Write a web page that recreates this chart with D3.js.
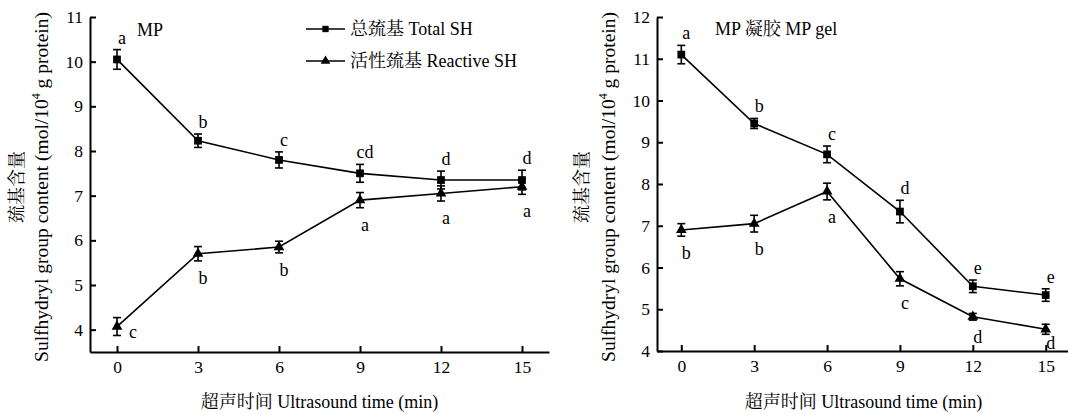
<!DOCTYPE html>
<html>
<head>
<meta charset="utf-8">
<script src="https://cdn.jsdelivr.net/npm/d3@7/dist/d3.min.js"></script>
<style>
  body { margin: 0; background: #fff; }
  svg { display: block; }
  svg text { font-family: "Liberation Serif", "Noto Serif CJK SC", serif !important; fill: #000; }
  .axis path, .axis line { stroke: #000; stroke-width: 2; }
</style>
</head>
<body>
<svg id="chart" width="1068" height="414"></svg>
<script>
'use strict';
const FONT = '"Liberation Serif", "Noto Serif CJK SC", serif';

// ultrasound time (min)
const times = [0, 3, 6, 9, 12, 15];
const xTicks = [0, 3, 6, 9, 12, 15];

// MP panel
const mpTotal = [10.05, 8.23, 7.8, 7.5, 7.35, 7.35];
const mpTotalErr = [0.22, 0.15, 0.18, 0.2, 0.2, 0.22];
const mpTotalLetters = ['a', 'b', 'c', 'cd', 'd', 'd'];
const mpReactive = [4.07, 5.7, 5.85, 6.9, 7.05, 7.2];
const mpReactiveErr = [0.2, 0.16, 0.13, 0.17, 0.17, 0.17];
const mpReactiveLetters = ['c', 'b', 'b', 'a', 'a', 'a'];
const mpReactiveSide = ['right', 'below', 'below', 'below', 'below', 'below'];
const mpYTicks = [4, 5, 6, 7, 8, 9, 10, 11];

// MP gel panel
const gelTotal = [11.1, 9.45, 8.71, 7.34, 5.55, 5.34];
const gelTotalErr = [0.22, 0.12, 0.2, 0.27, 0.15, 0.15];
const gelTotalLetters = ['a', 'b', 'c', 'd', 'e', 'e'];
const gelReactive = [6.9, 7.05, 7.82, 5.73, 4.82, 4.52];
const gelReactiveErr = [0.15, 0.2, 0.2, 0.17, 0.08, 0.12];
const gelReactiveLetters = ['b', 'b', 'a', 'c', 'd', 'd'];
const gelReactiveSide = ['below', 'below', 'below', 'below', 'below', 'below'];
const gelYTicks = [4, 5, 6, 7, 8, 9, 10, 11, 12];

const legendLabels = ['总巯基 Total SH', '活性巯基 Reactive SH'];

const svg = d3.select('#chart');

const panels = [{
    title: 'MP',
    titlePos: [137, 36],
    left: 90, right: 549, top: 17, bottom: 352,
    yDomain: [3.5, 11],
    yTicks: mpYTicks,
    total: mpTotal, totalErr: mpTotalErr, totalLetters: mpTotalLetters,
    reactive: mpReactive, reactiveErr: mpReactiveErr, reactiveLetters: mpReactiveLetters,
    reactiveSide: mpReactiveSide,
    labelX: [23, 48],
    legend: true
}, {
    title: 'MP 凝胶 MP gel',
    titlePos: [715, 35],
    left: 657, right: 1070, top: 17, bottom: 351,
    yDomain: [4, 12],
    yTicks: gelYTicks,
    total: gelTotal, totalErr: gelTotalErr, totalLetters: gelTotalLetters,
    reactive: gelReactive, reactiveErr: gelReactiveErr, reactiveLetters: gelReactiveLetters,
    reactiveSide: gelReactiveSide,
    labelX: [588, 615],
    legend: false
}];

panels.forEach(drawPanel);

// d3 axes put their own font on the group, so set ours on every text
svg.selectAll('.axis').attr('font-family', FONT).attr('font-size', null);
svg.selectAll('text').attr('font-family', FONT).style('font-family', FONT);
svg.selectAll('.axis text').style('font-size', '17.5px');

function drawPanel(p) {
    const x = d3.scaleLinear().domain([-1, 16]).range([p.left, p.right]);
    const y = d3.scaleLinear().domain(p.yDomain).range([p.bottom, p.top]);

    const g = svg.append('g');

    g.append('g')
        .attr('class', 'axis')
        .attr('transform', 'translate(0,' + p.bottom + ')')
        .call(d3.axisBottom(x).tickValues(xTicks).tickSizeInner(-6).tickSizeOuter(0).tickPadding(9));

    g.append('g')
        .attr('class', 'axis')
        .attr('transform', 'translate(' + p.left + ',0)')
        .call(d3.axisLeft(y).tickValues(p.yTicks).tickSizeInner(-6).tickSizeOuter(0).tickPadding(7));

    // x axis title
    g.append('text')
        .attr('x', (p.left + p.right) / 2)
        .attr('y', 408)
        .attr('text-anchor', 'middle')
        .style('font-size', '18px')
        .text('超声时间 Ultrasound time (min)');

    // y axis title, two lines
    const cy = 187;
    g.append('text')
        .attr('transform', 'translate(' + p.labelX[0] + ',' + cy + ') rotate(-90)')
        .attr('text-anchor', 'middle')
        .style('font-size', '18px')
        .text('巯基含量');
    const yl = g.append('text')
        .attr('transform', 'translate(' + p.labelX[1] + ',' + cy + ') rotate(-90)')
        .attr('text-anchor', 'middle')
        .style('font-size', '19.5px');
    yl.append('tspan').text('Sulfhydryl group content (mol/10');
    yl.append('tspan').attr('dy', -8).style('font-size', '12px').text('4');
    yl.append('tspan').attr('dy', 8).text(' g protein)');

    // panel title
    g.append('text')
        .attr('x', p.titlePos[0])
        .attr('y', p.titlePos[1])
        .style('font-size', '18px')
        .text(p.title);

    const series = [
        { values: p.total, err: p.totalErr, letters: p.totalLetters, symbol: d3.symbolSquare, size: 60, side: times.map(() => 'above') },
        { values: p.reactive, err: p.reactiveErr, letters: p.reactiveLetters, symbol: d3.symbolTriangle, size: 50, side: p.reactiveSide }
    ];

    series.forEach(s => {
        const data = times.map((t, i) => ({ t, v: s.values[i], e: s.err[i], l: s.letters[i], side: s.side[i] }));

        g.append('path')
            .datum(data)
            .attr('fill', 'none')
            .attr('stroke', '#000')
            .attr('stroke-width', 1.6)
            .attr('d', d3.line().x(d => x(d.t)).y(d => y(d.v)));

        const eb = g.append('g').selectAll('g').data(data).enter().append('g');
        eb.append('line')
            .attr('x1', d => x(d.t)).attr('x2', d => x(d.t))
            .attr('y1', d => y(d.v - d.e)).attr('y2', d => y(d.v + d.e))
            .attr('stroke', '#000').attr('stroke-width', 1.6);
        [-1, 1].forEach(k => {
            eb.append('line')
                .attr('x1', d => x(d.t) - 4).attr('x2', d => x(d.t) + 4)
                .attr('y1', d => y(d.v + k * d.e)).attr('y2', d => y(d.v + k * d.e))
                .attr('stroke', '#000').attr('stroke-width', 1.6);
        });

        g.append('g').selectAll('path').data(data).enter().append('path')
            .attr('transform', d => 'translate(' + x(d.t) + ',' + y(d.v) + ')')
            .attr('d', d3.symbol().type(s.symbol).size(s.size))
            .attr('fill', '#000');

        g.append('g').selectAll('text').data(data).enter().append('text')
            .attr('x', d => d.side === 'right' ? x(d.t) + 16 : x(d.t) + 5)
            .attr('y', d => {
                if (d.side === 'above') return y(d.v + d.e) - 6;
                if (d.side === 'right') return y(d.v) + 11;
                // letters below a point never drop under the x axis line
                return Math.min(y(d.v - d.e) + 23, p.bottom - 2);
            })
            .attr('text-anchor', 'middle')
            .style('font-size', '18px')
            .text(d => d.l);
    });

    if (p.legend) {
        const lg = svg.append('g').attr('transform', 'translate(306,0)');
        const symbols = [d3.symbolSquare, d3.symbolTriangle];
        legendLabels.forEach((lab, i) => {
            const ly = 29 + i * 32;
            lg.append('line').attr('x1', 0).attr('x2', 39).attr('y1', ly).attr('y2', ly)
                .attr('stroke', '#000').attr('stroke-width', 1.6);
            lg.append('path').attr('transform', 'translate(19.5,' + ly + ')')
                .attr('d', d3.symbol().type(symbols[i]).size(40)).attr('fill', '#000');
            lg.append('text').attr('x', 44).attr('y', ly + 6)
                .style('font-size', '18px').text(lab);
        });
    }
}
</script>
</body>
</html>
